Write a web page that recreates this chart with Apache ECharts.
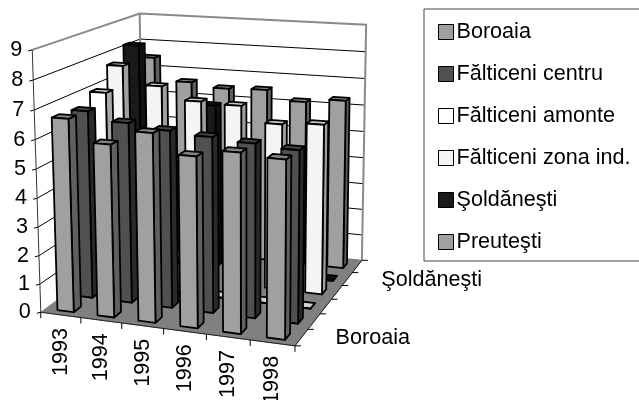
<!DOCTYPE html>
<html>
<head>
<meta charset="utf-8">
<style>html,body{margin:0;padding:0;background:#fff}#main{width:639px;height:400px}</style>
<script src="https://cdn.jsdelivr.net/npm/echarts@6/dist/echarts.min.js"></script>
</head>
<body>
<div id="main"></div>
<script>
const years = ['1993', '1994', '1995', '1996', '1997', '1998'];
const valueTicks = [0, 1, 2, 3, 4, 5, 6, 7, 8, 9];
const rowNames = ['Boroaia', 'Fălticeni centru', 'Fălticeni amonte', 'Fălticeni zona ind.', 'Şoldăneşti', 'Preuteşti'];
const depthLabels = ['Boroaia', '', '', '', 'Şoldăneşti', ''];
const boroaia = [6.7, 5.95, 6.45, 5.8, 6.05, 5.95];
const falticeniCentru = [6.65, 6.35, 6.2, 6.1, 6.0, 5.9];
const falticeniAmonte = [7.0, 0, 0, 0, 0, 0];
const falticeniZona = [7.7, 7.05, 6.6, 6.55, 6.0, 6.1];
const soldanesti = [8.2, 0, 6.15, 0, 0, 0];
const preutesti = [7.5, 6.65, 6.5, 6.55, 6.2, 6.35];
const rowValues = [boroaia, falticeniCentru, falticeniAmonte, falticeniZona, soldanesti, preutesti];

// culori: fata, lateral, sus
const rowColors = [
  ['#a0a0a0', '#606060', '#808080'],
  ['#505050', '#2a2a2a', '#404040'],
  ['#ffffff', '#a8a8a8', '#d0d0d0'],
  ['#f4f4f4', '#a0a0a0', '#c8c8c8'],
  ['#1a1a1a', '#111111', '#0d0d0d'],
  ['#a0a0a0', '#606060', '#808080'],
];

// colturile cubului (u, d, z) -> pixeli, proiectia se calculeaza din ele
const cubeCorners = [
  [0, 0, 0, 41, 311], [1, 0, 0, 295, 347], [1, 1, 0, 362, 259], [0, 1, 0, 143, 238],
  [0, 0, 1, 32, 50], [1, 1, 1, 366, 25], [0, 1, 1, 140, 13],
];

function solve(A, b) {
  const n = b.length;
  for (let i = 0; i < n; i++) {
    let p = i;
    for (let r = i + 1; r < n; r++) if (Math.abs(A[r][i]) > Math.abs(A[p][i])) p = r;
    [A[i], A[p]] = [A[p], A[i]];
    [b[i], b[p]] = [b[p], b[i]];
    for (let r = i + 1; r < n; r++) {
      const f = A[r][i] / A[i][i];
      for (let c = i; c < n; c++) A[r][c] -= f * A[i][c];
      b[r] -= f * b[i];
    }
  }
  const x = new Array(n).fill(0);
  for (let i = n - 1; i >= 0; i--) {
    let s = b[i];
    for (let c = i + 1; c < n; c++) s -= A[i][c] * x[c];
    x[i] = s / A[i][i];
  }
  return x;
}

function fitProjection() {
  const rows = [], rhs = [];
  cubeCorners.forEach(([u, d, z, px, py]) => {
    rows.push([u, d, z, 1, 0, 0, 0, 0, -px * u, -px * d, -px * z]);
    rhs.push(px);
    rows.push([0, 0, 0, 0, u, d, z, 1, -py * u, -py * d, -py * z]);
    rhs.push(py);
  });
  const N = [], t = [];
  for (let i = 0; i < 11; i++) {
    N.push(new Array(11).fill(0));
    t.push(0);
    rows.forEach((r, k) => {
      for (let j = 0; j < 11; j++) N[i][j] += r[i] * r[j];
      t[i] += r[i] * rhs[k];
    });
  }
  return solve(N, t);
}
const P = fitProjection();

function project(u, d, z) {
  const w = P[8] * u + P[9] * d + P[10] * z + 1;
  return [
    (P[0] * u + P[1] * d + P[2] * z + P[3]) / w,
    (P[4] * u + P[5] * d + P[6] * z + P[7]) / w,
  ];
}

const BAR_U = 0.41, BAR_D0 = 0.25, BAR_D1 = 0.63;
const FONT = '21.6px "Liberation Sans", Arial, sans-serif';

function barItem(row) {
  return function (params, api) {
    const cs = params.coordSys;
    const pt = api.coord([api.value(0), api.value(1)]);
    const halfU = (api.size([1, 0])[0] * BAR_U) / 2 / cs.width;
    const uc = (pt[0] - cs.x) / cs.width;
    const u0 = uc - halfU, u1 = uc + halfU;
    const d0 = (row + BAR_D0) / rowNames.length, d1 = (row + BAR_D1) / rowNames.length;
    const z = (cs.y + cs.height - pt[1]) / cs.height;
    const c = rowColors[row];
    const face = (pts, fill) => ({
      type: 'polygon',
      shape: { points: pts },
      style: { fill: fill, stroke: '#000', lineWidth: 1.8, lineJoin: 'round' },
    });
    return {
      type: 'group',
      children: [
        face([project(u1, d0, 0), project(u1, d1, 0), project(u1, d1, z), project(u1, d0, z)], c[1]),
        face([project(u0, d0, z), project(u1, d0, z), project(u1, d1, z), project(u0, d1, z)], c[2]),
        face([project(u0, d0, 0), project(u1, d0, 0), project(u1, d0, z), project(u0, d0, z)], c[0]),
      ],
    };
  };
}

function frameItem(params, api) {
  const line = (pts, stroke, lineWidth) => ({
    type: 'polyline',
    shape: { points: pts },
    style: { fill: 'none', stroke: stroke, lineWidth: lineWidth },
  });
  const text = (str, x, y, align, vAlign, rotation) => ({
    type: 'text',
    x: x,
    y: y,
    rotation: rotation || 0,
    style: { text: str, font: FONT, fill: '#000', align: align, verticalAlign: vAlign },
  });
  const out = [];
  // podea
  out.push({
    type: 'polygon',
    shape: { points: [project(0, 0, 0), project(1, 0, 0), project(1, 1, 0), project(0, 1, 0)] },
    style: { fill: '#808080', stroke: '#808080', lineWidth: 1 },
  });
  // linii de grila pe pereti
  const topZ = valueTicks[valueTicks.length - 1];
  valueTicks.forEach((v) => {
    const z = v / topZ;
    if (v > 0 && v < topZ) {
      out.push(line([project(0, 0, z), project(0, 1, z), project(1, 1, z)], '#000', 1));
    }
    const p = project(0, 0, z);
    out.push(line([[p[0] - 4, p[1] + 1], p], '#000', 1));
    out.push(text(String(v), p[0] - 10, p[1], 'right', 'middle'));
  });
  // marginile gri
  out.push(line([project(0, 0, 1), project(0, 1, 1), project(1, 1, 1), project(1, 1, 0)], '#8a8a8a', 2));
  out.push(line([project(0, 1, 1), project(0, 1, 0)], '#8a8a8a', 2));
  // axe
  out.push(line([project(0, 0, 0), project(0, 0, 1)], '#333', 1));
  out.push(line([project(0, 0, 0), project(1, 0, 0), project(1, 1, 0)], '#222', 1));
  for (let i = 0; i <= years.length; i++) {
    const p = project(i / years.length, 0, 0);
    out.push(line([p, [p[0], p[1] + 6]], '#000', 1));
    if (i < years.length) {
      const c = project((i + 0.5) / years.length, 0, 0);
      out.push(text(years[i], c[0], c[1] + 13, 'right', 'middle', Math.PI / 2));
    }
  }
  for (let i = 0; i <= rowNames.length; i++) {
    const p = project(1, i / rowNames.length, 0);
    out.push(line([p, [p[0] + 6, p[1]]], '#000', 1));
    if (i < rowNames.length && depthLabels[i]) {
      const c = project(1, (i + 0.5) / rowNames.length, 0);
      out.push(text(depthLabels[i], c[0] + 34, c[1] + 1, 'left', 'middle'));
    }
  }
  return { type: 'group', children: out };
}

const series = [{
  type: 'custom',
  name: 'frame',
  silent: true,
  renderItem: frameItem,
  data: [[0, 0]],
  encode: { x: 0, y: 1 },
}];
// randurile din spate se deseneaza primele
for (let r = rowNames.length - 1; r >= 0; r--) {
  series.push({
    type: 'custom',
    name: rowNames[r],
    silent: true,
    itemStyle: { color: rowColors[r][0] },
    renderItem: barItem(r),
    encode: { x: 0, y: 1 },
    data: rowValues[r].map((v, i) => [i, v]),
  });
}

const chart = echarts.init(document.getElementById('main'), null, { renderer: 'canvas' });
chart.setOption({
  animation: false,
  backgroundColor: '#fff',
  grid: { left: 0, right: 0, top: 0, bottom: 0 },
  xAxis: { type: 'category', data: years, show: false },
  yAxis: { type: 'value', min: 0, max: 9, interval: 1, show: false },
  legend: {
    data: rowNames,
    orient: 'vertical',
    left: 424,
    top: 9,
    selectedMode: false,
    icon: 'rect',
    itemWidth: 15,
    itemHeight: 15,
    itemGap: 20,
    padding: [12, 30, 8, 14],
    borderColor: '#444',
    borderWidth: 1,
    itemStyle: { borderColor: '#000', borderWidth: 1 },
    textStyle: { fontFamily: '"Liberation Sans", Arial, sans-serif', fontSize: 21.6, color: '#000', padding: [0, 0, 0, -2] },
  },
  series: series,
});
</script>
</body>
</html>
